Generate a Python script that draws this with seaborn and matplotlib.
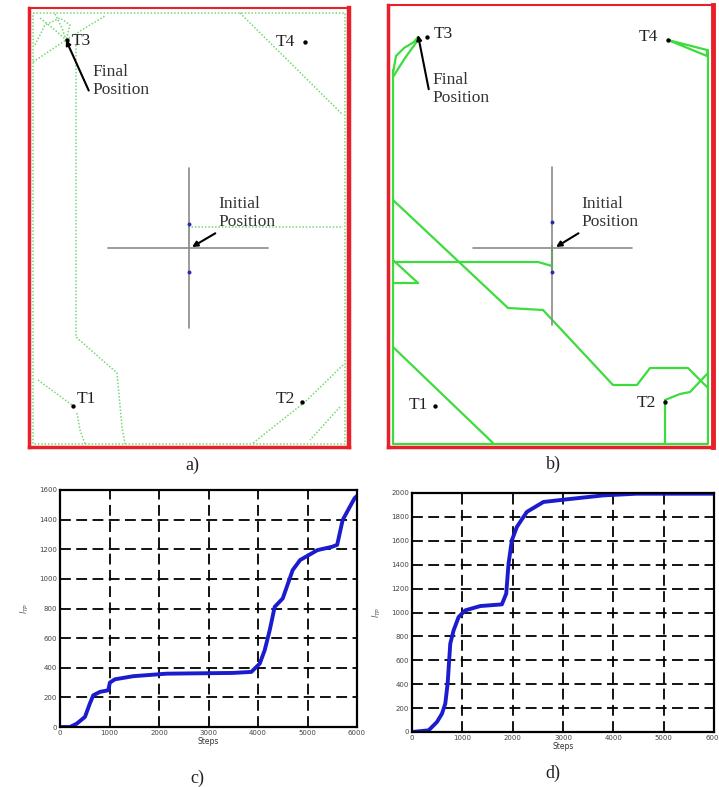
#! /usr/bin/env/python3
"""
Robot exploration maps (a, b) and coverage curves (c, d).
"""

# Imports
import numpy as np
import pandas as pd
import matplotlib
matplotlib.use('Agg')
import matplotlib.pyplot as plt
import seaborn as sns

# Figure size in pixels
FIG_W, FIG_H = 719, 787

# ---- Data: map a (map units, y downwards) ----
a_box = (29, 349, 8, 447)
a_border = [(33, 13), (345, 13), (345, 444), (33, 444), (33, 13)]
a_left = [(76, 45), (76, 337), (117, 373), (122, 427), (125, 444)]
a_t1 = [(38, 380), (72, 405)]
a_t1_down = [(77, 413), (80, 430), (85, 444)]
a_t2 = [(343, 365), (305, 402), (253, 443)]
a_t2_low = [(340, 407), (310, 440)]
a_topright = [(240, 13), (343, 115)]
a_init = [(189, 248), (189, 227), (343, 227)]
a_knot1 = [(33, 62), (48, 52), (66, 40)]
a_knot2 = [(40, 18), (55, 30), (66, 40)]
a_knot3 = [(55, 14), (62, 28), (66, 40)]
a_knot4 = [(35, 45), (45, 25), (60, 18), (70, 25), (66, 40)]
a_knot5 = [(66, 40), (85, 28), (105, 16)]
a_paths = [a_border, a_left, a_t1, a_t1_down, a_t2, a_t2_low, a_topright,
           a_init, a_knot1, a_knot2, a_knot3, a_knot4, a_knot5]
a_cross_h = [(108, 248), (268, 248)]
a_cross_v = [(189, 168), (189, 328)]
a_blue = [(189, 224), (189, 272)]
a_targets = [(73, 406), (302, 402), (67, 40), (305, 42)]
a_labels = ['T1', 'T2', 'T3', 'T4']
a_label_pos = [(77, 399), (276, 399), (72, 41), (276, 42)]

# ---- Data: map b ----
b_box = (388, 713, 5, 447)
b_left = [(393, 70), (393, 444), (708, 444), (708, 50)]
b_diag = [(393, 200), (508, 308), (543, 310), (613, 385), (637, 385),
          (650, 368), (688, 368), (708, 388)]
b_horiz = [(393, 262), (538, 262), (552, 266)]
b_start = [(552, 246), (552, 270)]
b_short = [(393, 260), (418, 283)]
b_stub = [(393, 283), (418, 283)]
b_lower = [(393, 347), (493, 443)]
b_t2_up = [(665, 400), (680, 394), (690, 392), (708, 373)]
b_t2_down = [(665, 400), (665, 444)]
b_arc = [(393, 73), (396, 56), (404, 48), (414, 42), (418, 37)]
b_arc2 = [(393, 77), (405, 58), (418, 40)]
b_t4 = [(668, 40), (707, 50), (707, 56), (668, 40)]
b_paths = [b_left, b_diag, b_horiz, b_start, b_short, b_stub, b_lower,
           b_t2_up, b_t2_down, b_arc, b_arc2, b_t4]
b_cross_h = [(473, 248), (632, 248)]
b_cross_v = [(552, 167), (552, 325)]
b_blue = [(552, 222), (552, 272)]
b_targets = [(435, 406), (665, 402), (427, 37), (668, 40)]
b_labels = ['T1', 'T2', 'T3', 'T4']
b_label_pos = [(409, 405), (637, 403), (434, 34), (639, 37)]

# ---- Data: curve c ----
c_steps = [0, 200, 336, 504, 605, 672, 807, 975, 1008, 1110, 1480, 2152, 3497,
           3866, 4035, 4135, 4237, 4337, 4500, 4700, 4850, 5200, 5500, 5600,
           5710, 5820, 5950, 6000]
c_vals = [0, 0, 22, 68, 160, 214, 237, 248, 300, 322, 343, 360, 365,
          372, 428, 518, 654, 811, 868, 1059, 1127, 1194, 1217, 1230,
          1397, 1465, 1544, 1560]
c_yticks = [0, 200, 400, 600, 800, 1000, 1200, 1400, 1600]

# ---- Data: curve d ----
d_steps = [0, 331, 496, 595, 661, 708, 760, 827, 926, 1058, 1356, 1786, 1872,
           1918, 1984, 2083, 2282, 2612, 3009, 3803, 4464, 6000]
d_vals = [0, 14, 84, 153, 237, 405, 739, 851, 962, 1018, 1054, 1068, 1158,
          1409, 1604, 1716, 1842, 1925, 1944, 1980, 1994, 1994]
d_yticks = [0, 200, 400, 600, 800, 1000, 1200, 1400, 1600, 1800, 2000]
x_ticks = [0, 1000, 2000, 3000, 4000, 5000, 6000]

SERIF = ['Liberation Serif', 'DejaVu Serif']


def px_axes(fig, x0, x1, y0, y1):
    """Add axes from pixel box (top-left origin)."""
    return fig.add_axes([x0 / FIG_W, 1 - y1 / FIG_H, (x1 - x0) / FIG_W, (y1 - y0) / FIG_H])


def draw_path(ax, pts, **kw):
    df = pd.DataFrame(pts, columns=['x', 'y'])
    sns.lineplot(data=df, x='x', y='y', ax=ax, sort=False, estimator=None, **kw)


def plot_map(fig, box, paths, path_style, cross_h, cross_v, blue, targets, labels, label_pos,
             final_xy, final_txt, init_xy, init_txt, border_lw):
    x0, x1, y0, y1 = box
    ax = px_axes(fig, x0, x1, y0, y1)
    for side, lw in zip(['left', 'right', 'top', 'bottom'], border_lw):
        ax.spines[side].set_color('#e8202a')
        ax.spines[side].set_linewidth(lw)

    for pts in paths:
        draw_path(ax, pts, **path_style)

    # crosshair at the start
    draw_path(ax, cross_h, color='#8a8a8a', lw=1.2)
    draw_path(ax, cross_v, color='#8a8a8a', lw=1.2)
    bx, by = zip(*blue)
    sns.scatterplot(x=list(bx), y=list(by), ax=ax, color='#2a2ab0', s=8, linewidth=0, zorder=5)

    tx, ty = zip(*targets)
    sns.scatterplot(x=list(tx), y=list(ty), ax=ax, color='k', s=10, linewidth=0, zorder=6)
    for lab, (lx, ly) in zip(labels, label_pos):
        ax.text(lx, ly, lab, fontsize=12.5, family=SERIF, va='center', ha='left', color='#222222')

    ax.annotate(final_txt[0], xy=final_xy[0], xytext=final_xy[1], fontsize=12.5, family=SERIF,
                color='#333333', va='top', ha='left', linespacing=1.15,
                arrowprops=dict(arrowstyle='-|>', color='k', lw=1.5, mutation_scale=7,
                                shrinkA=0, shrinkB=0, relpos=(0, 0)))
    ax.annotate(init_txt[0], xy=init_xy[0], xytext=init_xy[1], fontsize=12.5, family=SERIF,
                color='#333333', va='bottom', ha='left', linespacing=1.15,
                arrowprops=dict(arrowstyle='-|>', color='k', lw=1.5, mutation_scale=8,
                                shrinkA=0, shrinkB=0, relpos=(0.05, 0)))
    ax.set_xlim(x0, x1)
    ax.set_ylim(y1, y0)
    ax.set_xticks([])
    ax.set_yticks([])
    ax.set_xlabel('')
    ax.set_ylabel('')
    return ax


def plot_curve(fig, box, steps, vals, yticks, ylabel):
    x0, x1, y0, y1 = box
    ax = px_axes(fig, x0, x1, y0, y1)
    sns.lineplot(x=steps, y=vals, ax=ax, color='#1c1ccf', lw=2.8, sort=False, estimator=None)
    ax.set_xlim(0, 6000)
    ax.set_ylim(0, yticks[-1])
    ax.set_xticks(x_ticks)
    ax.set_yticks(yticks)
    ax.set_xticklabels([str(t) for t in x_ticks])
    ax.set_yticklabels([str(t) for t in yticks])
    ax.grid(True, color='k', linestyle=(0, (6, 3)), lw=1.3)
    ax.tick_params(length=0, labelsize=5, colors='#444444', pad=2)
    for side in ax.spines:
        ax.spines[side].set_color('k')
        ax.spines[side].set_linewidth(1.6)
    ax.set_xlabel('Steps', fontsize=5.5, color='#333333', labelpad=1)
    ax.set_ylabel(ylabel, fontsize=6, color='#555555', labelpad=6)
    return ax


# Plot
sns.set_style('white')
plt.rcParams['font.family'] = ['DejaVu Sans']

fig = plt.figure(figsize=(FIG_W / 100, FIG_H / 100), dpi=100)

style_a = dict(color='#74d874', lw=1.1, linestyle=(0, (1, 1.2)))
style_b = dict(color='#3ddc3d', lw=1.6)

plot_map(fig, a_box, a_paths, style_a, a_cross_h, a_cross_v, a_blue, a_targets, a_labels,
         a_label_pos, [(66, 40), (92, 64)], ['Final\nPosition'],
         [(192, 247), (218, 230)], ['Initial\nPosition'], (2.5, 3.2, 1.5, 2.5))
plot_map(fig, b_box, b_paths, style_b, b_cross_h, b_cross_v, b_blue, b_targets, b_labels,
         b_label_pos, [(418, 35), (432, 72)], ['Final\nPosition'],
         [(556, 247), (581, 230)], ['Initial\nPosition'], (2.5, 3.5, 1.5, 2.5))

plot_curve(fig, (60, 357, 490, 727), c_steps, c_vals, c_yticks, r'$l_{TP}$')
plot_curve(fig, (412, 714, 493, 732), d_steps, d_vals, d_yticks, r'$l_{TP}$')

# panel captions
for lab, (cx, cy) in zip(['a)', 'b)', 'c)', 'd)'], [(192, 465), (553, 464), (197, 778), (553, 773)]):
    fig.text(cx / FIG_W, 1 - cy / FIG_H, lab, fontsize=13, family=SERIF, ha='center', va='center',
             color='#222222')

fig.savefig('out.png', dpi=100)
